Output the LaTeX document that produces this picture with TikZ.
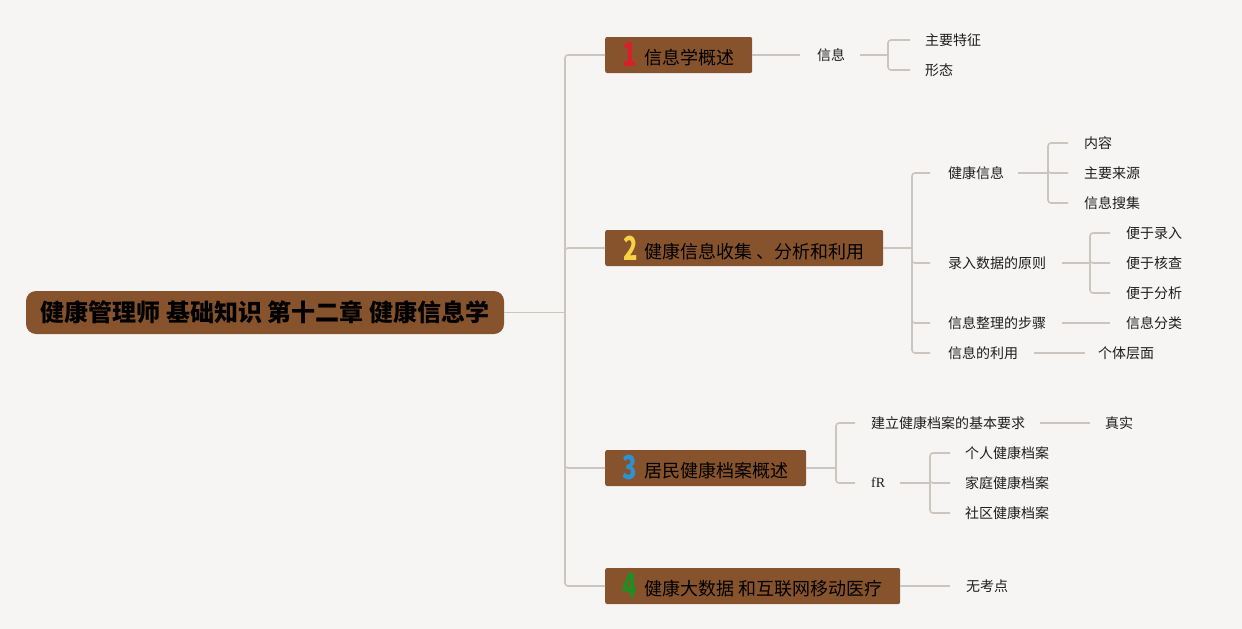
\documentclass[tikz,border=0pt]{standalone}
\usepackage{fontspec}
\usepackage{graphicx}
\setmainfont{Noto Sans CJK SC}
\usetikzlibrary{calc}
\definecolor{bgc}{HTML}{F7F5F3}
\definecolor{brownc}{HTML}{87532D}
\definecolor{linec}{HTML}{CBC5BF}
\definecolor{txtc}{HTML}{1E1E1E}
\definecolor{n1}{HTML}{D8202A}
\definecolor{n2}{HTML}{F4D446}
\definecolor{n3}{HTML}{2A93D5}
\definecolor{n4}{HTML}{1F8F22}
\newcommand\numd[2]{\raisebox{-2pt}{\scalebox{0.72}[1]{\fontsize{33}{33}\selectfont\bfseries\color{#1}#2}}\hspace{7pt}}
\tikzset{
  rootbox/.style={fill=brownc, rounded corners=10pt, minimum width=478pt, minimum height=43pt, inner sep=0pt,
     font=\fontsize{24}{24}\selectfont\bfseries, text=black},
  catbox/.style={fill=brownc, rounded corners=2pt, minimum height=36pt, inner sep=0pt, anchor=west,
     font=\fontsize{18}{18}\selectfont, text=black},
  leaf/.style={anchor=west, inner sep=0pt, font=\fontsize{14}{14}\selectfont, text=txtc},
  conn/.style={draw=linec, line width=1.6pt, rounded corners=3pt},
}
\begin{document}
\begin{tikzpicture}[x=1pt,y=-1pt]
\path[fill=bgc] (0,0) rectangle (1242,629);
% root
\node[rootbox] (root) at (265,312.5) {健康管理师 基础知识 第十二章 健康信息学};
% categories
\node[catbox, minimum width=147pt] (b1) at (605,55) {\numd{n1}{1}信息学概述};
\node[catbox, minimum width=278pt] (b2) at (605,248) {\numd{n2}{2}健康信息收集 、分析和利用};
\node[catbox, minimum width=201pt] (b3) at (605,468) {\numd{n3}{3}居民健康档案概述};
\node[catbox, minimum width=295pt] (b4) at (605,586) {\numd{n4}{4}健康大数据 和互联网移动医疗};
% trunk
\coordinate (t) at (565,312.5);
\draw[conn] (root.east) -- (t);
\foreach \b in {b1,b2,b3,b4} \draw[conn] (t) |- (\b.west);
% group 1
\node[leaf] (xx) at (817,55) {信息};
\node[leaf] (tz) at (925,40) {主要特征};
\node[leaf] (xt) at (925,70) {形态};
\draw[conn] (b1.east) -- ([xshift=-17pt]xx.west);
\coordinate (k1) at (888,55);
\draw[conn] ([xshift=15pt]xx.east) -- (k1);
\foreach \n in {tz,xt} \draw[conn] (k1) |- ([xshift=-15pt]\n.west);
% group 2
\node[leaf] (jk) at (948,173) {健康信息};
\node[leaf] (lr) at (948,263) {录入数据的原则};
\node[leaf] (zl) at (948,323) {信息整理的步骤};
\node[leaf] (ly) at (948,353) {信息的利用};
\coordinate (k2) at (912,248);
\draw[conn] (b2.east) -- (k2);
\foreach \n in {jk,lr,zl,ly} \draw[conn] (k2) |- ([xshift=-18pt]\n.west);
\node[leaf] (nr) at (1084,143) {内容};
\node[leaf] (ly2) at (1084,173) {主要来源};
\node[leaf] (ss) at (1084,203) {信息搜集};
\coordinate (k3) at (1048,173);
\draw[conn] ([xshift=14pt]jk.east) -- (k3);
\foreach \n in {nr,ly2,ss} \draw[conn] (k3) |- ([xshift=-16pt]\n.west);
\node[leaf] (p1) at (1126,233) {便于录入};
\node[leaf] (p2) at (1126,263) {便于核查};
\node[leaf] (p3) at (1126,293) {便于分析};
\coordinate (k4) at (1090,263);
\draw[conn] ([xshift=16pt]lr.east) -- (k4);
\foreach \n in {p1,p2,p3} \draw[conn] (k4) |- ([xshift=-16pt]\n.west);
\node[leaf] (fl) at (1126,323) {信息分类};
\draw[conn] ([xshift=16pt]zl.east) -- ([xshift=-16pt]fl.west);
\node[leaf] (gt) at (1098,353) {个体层面};
\draw[conn] ([xshift=16pt]ly.east) -- ([xshift=-13pt]gt.west);
% group 3
\node[leaf] (jl) at (871,423) {建立健康档案的基本要求};
\node[leaf] (fr) at (871,483) {\fontspec{Liberation Serif}fR};
\coordinate (k5) at (836,468);
\draw[conn] (b3.east) -- (k5);
\foreach \n in {jl,fr} \draw[conn] (k5) |- ([xshift=-16pt]\n.west);
\node[leaf] (zs) at (1105,423) {真实};
\draw[conn] ([xshift=15pt]jl.east) -- ([xshift=-15pt]zs.west);
\node[leaf] (d1) at (965,453) {个人健康档案};
\node[leaf] (d2) at (965,483) {家庭健康档案};
\node[leaf] (d3) at (965,513) {社区健康档案};
\coordinate (k6) at (930,483);
\draw[conn] ([xshift=15pt]fr.east) -- (k6);
\foreach \n in {d1,d2,d3} \draw[conn] (k6) |- ([xshift=-15pt]\n.west);
% group 4
\node[leaf] (wk) at (966,586) {无考点};
\draw[conn] (b4.east) -- ([xshift=-16pt]wk.west);
\end{tikzpicture}
\end{document}
